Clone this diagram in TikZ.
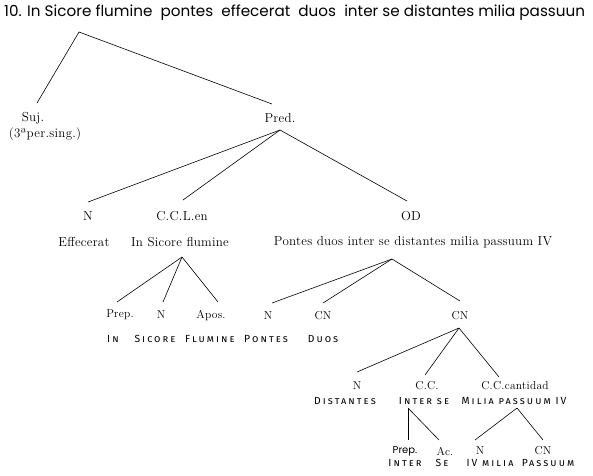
\documentclass[tikz,border=0pt]{standalone}
\usepackage{fontspec}
\newfontfamily\titlefont{Poppins}
\newfontfamily\serifw[LetterSpace=2]{Latin Modern Roman}
\newfontfamily\capsfont[Letters=SmallCaps,LetterSpace=20]{Fira Sans}
\tikzset{
  lbl/.style={font=\serifw\fontsize{13}{13}\selectfont, inner sep=0pt},
  slbl/.style={font=\serifw\fontsize{11.5}{11.5}\selectfont, inner sep=0pt},
  capslbl/.style={font=\capsfont\fontsize{10.3}{10.3}\selectfont, inner sep=0pt},
  br/.style={line width=0.6pt, black}
}
\begin{document}
\begin{tikzpicture}[x=1pt,y=-1pt]
\useasboundingbox (0,0) rectangle (593,475);
\node[font=\titlefont\fontsize{15.2}{15.2}\selectfont, anchor=west, inner sep=0pt] (title) at (4,13)
  {10. In Sicore flumine\ \ pontes\ \ effecerat\ \ duos\ \ inter se distantes milia passuun};
% level 1
\node[lbl] (suj) at (33,118) {Suj.};
\node[lbl] (sujb) at (45,134) {(3ªper.sing.)};
\node[lbl] (pred) at (280,118) {Pred.};
% level 2
\node[lbl] (n1) at (88,216) {N};
\node[lbl] (ccl) at (182,216) {C.C.L.en};
\node[lbl] (od) at (411,216) {OD};
\node[lbl] (eff) at (84,242) {Effecerat};
\node[lbl] (isf) at (180,242) {In Sicore flumine};
\node[lbl] (pont) at (413,242) {Pontes duos inter se distantes milia passuum IV};
% level 3
\node[slbl] (prepa) at (120,315) {Prep.};
\node[slbl] (nb) at (161,315) {N};
\node[slbl] (apos) at (211,315) {Apos.};
\node[slbl] (nc) at (268,316) {N};
\node[slbl] (cna) at (323,316) {CN};
\node[slbl] (cnb) at (460,316) {CN};
\node[capslbl] (in) at (113,339) {In};
\node[capslbl] (sic) at (155,339) {Sicore};
\node[capslbl] (flu) at (210,339) {Flumine};
\node[capslbl] (pon) at (266,339) {Pontes};
\node[capslbl] (duo) at (323,339) {Duos};
% level 4
\node[slbl] (nd) at (357,386) {N};
\node[slbl] (cc) at (427,386) {C.C.};
\node[slbl] (ccc) at (515,386) {C.C.cantidad};
\node[capslbl] (dis) at (345,401) {Distantes};
\node[capslbl] (ise) at (424,401) {Inter se};
\node[capslbl] (mpi) at (514,401) {Milia passuum IV};
% level 5
\node[font=\titlefont\fontsize{10}{10}\selectfont, inner sep=0pt] (prepb) at (405,451) {Prep.};
\node[slbl] (ac) at (445,451) {Ac.};
\node[slbl] (ne) at (480,451) {N};
\node[slbl] (cnc) at (543,451) {CN};
\node[capslbl] (int) at (405,463) {Inter};
\node[capslbl] (se) at (442,463) {Se};
\node[capslbl] (ivm) at (490,463) {IV milia};
\node[capslbl] (pas) at (548,463) {Passuum};
% branch points
\coordinate (top) at (79,32);
\coordinate (sujT) at (37,103);
\coordinate (predT) at (272,104);
\coordinate (predB) at (280,130);
\coordinate (n1T) at (88,202);
\coordinate (cclT) at (183,200);
\coordinate (odT) at (407,201);
\coordinate (isfB) at (182,257);
\coordinate (prepaT) at (117,302);
\coordinate (nbT) at (163,302);
\coordinate (aposT) at (218,302);
\coordinate (pontB) at (392,259);
\coordinate (ncT) at (272,303);
\coordinate (cnaT) at (323,303);
\coordinate (cnbT) at (460,301);
\coordinate (cnbB) at (459,328);
\coordinate (ndT) at (357,372);
\coordinate (ccT) at (425,375);
\coordinate (cccT) at (499,377);
\coordinate (iseB) at (408,408);
\coordinate (prepbT) at (408,440);
\coordinate (acT) at (439,440);
\coordinate (mpiB) at (517,408);
\coordinate (neT) at (475,440);
\coordinate (cncT) at (543,440);
% connectors
\draw[br] (sujT) -- (top) -- (predT);
\draw[br] (predB) -- (n1T);
\draw[br] (predB) -- (cclT);
\draw[br] (predB) -- (odT);
\draw[br] (isfB) -- (prepaT);
\draw[br] (isfB) -- (nbT);
\draw[br] (isfB) -- (aposT);
\draw[br] (pontB) -- (ncT);
\draw[br] (pontB) -- (cnaT);
\draw[br] (pontB) -- (cnbT);
\draw[br] (cnbB) -- (ndT);
\draw[br] (cnbB) -- (ccT);
\draw[br] (cnbB) -- (cccT);
\draw[br] (iseB) -- (prepbT);
\draw[br] (iseB) -- (acT);
\draw[br] (mpiB) -- (neT);
\draw[br] (mpiB) -- (cncT);
\end{tikzpicture}
\end{document}
